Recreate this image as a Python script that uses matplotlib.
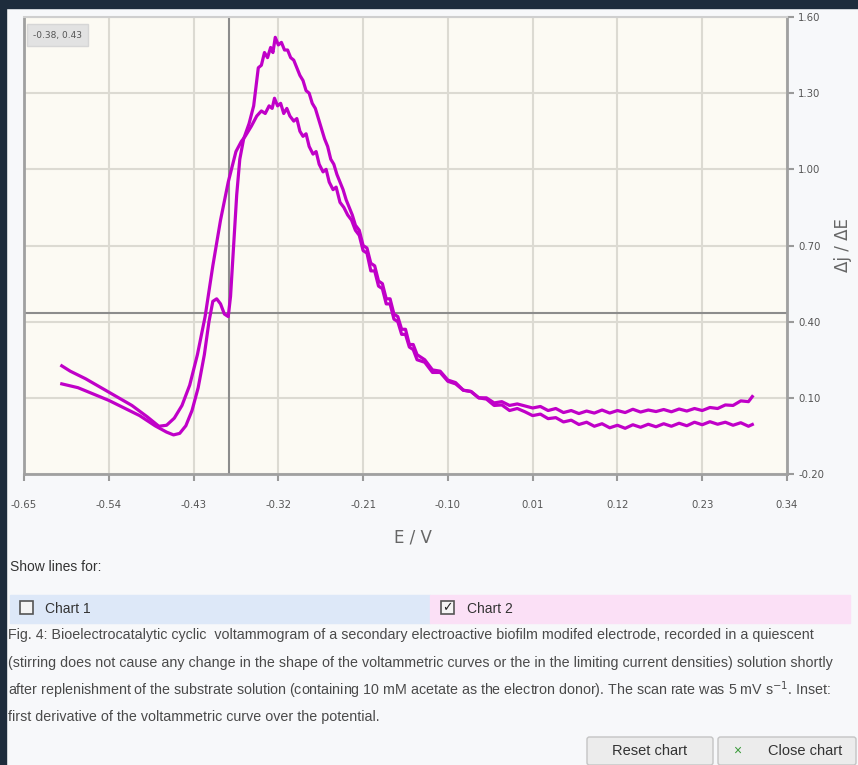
import matplotlib.pyplot as plt
from matplotlib.patches import Rectangle, FancyBboxPatch

# ---- data ----
x_ticks = [-0.65, -0.54, -0.43, -0.32, -0.21, -0.10, 0.01, 0.12, 0.23, 0.34]
x_tick_labels = ['-0.65', '-0.54', '-0.43', '-0.32', '-0.21', '-0.10', '0.01', '0.12', '0.23', '0.34']
y_ticks = [-0.20, 0.10, 0.40, 0.70, 1.00, 1.30, 1.60]
y_tick_labels = ['-0.20', '0.10', '0.40', '0.70', '1.00', '1.30', '1.60']

cursor_e = -0.384
cursor_v = 0.435
cursor_label = '-0.38, 0.43'

e_scan1 = [-0.601, -0.59, -0.57, -0.55, -0.53, -0.51, -0.49, -0.475, -0.465, -0.455,
           -0.445, -0.435, -0.425, -0.415, -0.405, -0.395, -0.385, -0.375, -0.368, -0.363,
           -0.355, -0.348, -0.342, -0.337, -0.332, -0.328, -0.325, -0.321, -0.317, -0.313,
           -0.309, -0.305, -0.30, -0.296, -0.292, -0.288, -0.284, -0.28, -0.275, -0.271,
           -0.267, -0.262, -0.258, -0.254, -0.249, -0.245, -0.24, -0.235, -0.23, -0.225,
           -0.22, -0.215, -0.21, -0.205, -0.20, -0.195, -0.19, -0.185, -0.18, -0.175,
           -0.17, -0.165, -0.16, -0.155, -0.15, -0.145, -0.14, -0.13, -0.12, -0.11,
           -0.10, -0.09, -0.08, -0.07, -0.06, -0.05, -0.04, -0.03, -0.02, -0.01,
           0.0, 0.01, 0.02, 0.03, 0.04, 0.05, 0.06, 0.07, 0.08, 0.09,
           0.10, 0.11, 0.12, 0.13, 0.14, 0.15, 0.16, 0.17, 0.18, 0.19,
           0.20, 0.21, 0.22, 0.23, 0.24, 0.25, 0.26, 0.27, 0.28, 0.29, 0.295]
dj_scan1 = [0.226, 0.205, 0.175, 0.14, 0.105, 0.07, 0.025, -0.012, -0.008, 0.02,
            0.07, 0.15, 0.27, 0.42, 0.62, 0.80, 0.95, 1.07, 1.11, 1.13,
            1.17, 1.21, 1.23, 1.22, 1.25, 1.24, 1.28, 1.25, 1.26, 1.22,
            1.24, 1.21, 1.19, 1.20, 1.15, 1.13, 1.14, 1.09, 1.06, 1.07,
            1.02, 0.99, 1.00, 0.95, 0.92, 0.93, 0.87, 0.85, 0.82, 0.80,
            0.76, 0.74, 0.68, 0.67, 0.60, 0.60, 0.54, 0.53, 0.47, 0.47,
            0.41, 0.40, 0.35, 0.35, 0.30, 0.29, 0.25, 0.24, 0.20, 0.20,
            0.165, 0.155, 0.13, 0.125, 0.10, 0.10, 0.08, 0.085, 0.07, 0.076,
            0.068, 0.06, 0.066, 0.05, 0.058, 0.042, 0.05, 0.038, 0.048, 0.04,
            0.052, 0.04, 0.05, 0.042, 0.055, 0.044, 0.052, 0.046, 0.054, 0.045,
            0.056, 0.048, 0.058, 0.05, 0.062, 0.058, 0.072, 0.07, 0.088, 0.085, 0.105]

e_scan2 = [-0.601, -0.58, -0.56, -0.54, -0.52, -0.50, -0.48, -0.465, -0.456, -0.448,
           -0.44, -0.432, -0.424, -0.416, -0.41, -0.405, -0.40, -0.395, -0.39, -0.385,
           -0.382, -0.378, -0.374, -0.37, -0.365, -0.358, -0.352, -0.346, -0.342, -0.338,
           -0.334, -0.33, -0.327, -0.324, -0.32, -0.316, -0.312, -0.308, -0.304, -0.30,
           -0.296, -0.292, -0.288, -0.284, -0.28, -0.276, -0.272, -0.268, -0.264, -0.26,
           -0.256, -0.252, -0.248, -0.244, -0.24, -0.236, -0.232, -0.228, -0.224, -0.22,
           -0.215, -0.21, -0.205, -0.20, -0.195, -0.19, -0.185, -0.18, -0.175, -0.17,
           -0.165, -0.16, -0.155, -0.15, -0.145, -0.14, -0.13, -0.12, -0.11, -0.10,
           -0.09, -0.08, -0.07, -0.06, -0.05, -0.04, -0.03, -0.02, -0.01,
           0.0, 0.01, 0.02, 0.03, 0.04, 0.05, 0.06, 0.07, 0.08, 0.09,
           0.10, 0.11, 0.12, 0.13, 0.14, 0.15, 0.16, 0.17, 0.18, 0.19,
           0.20, 0.21, 0.22, 0.23, 0.24, 0.25, 0.26, 0.27, 0.28, 0.29, 0.295]
dj_scan2 = [0.155, 0.14, 0.115, 0.09, 0.06, 0.03, -0.01, -0.035, -0.046, -0.04,
            -0.01, 0.05, 0.14, 0.27, 0.40, 0.48, 0.49, 0.47, 0.43, 0.42,
            0.50, 0.70, 0.90, 1.04, 1.12, 1.18, 1.25, 1.40, 1.41, 1.46,
            1.44, 1.48, 1.46, 1.52, 1.49, 1.50, 1.47, 1.47, 1.44, 1.43,
            1.40, 1.37, 1.35, 1.31, 1.30, 1.26, 1.24, 1.20, 1.16, 1.12,
            1.09, 1.04, 1.02, 0.98, 0.95, 0.92, 0.88, 0.85, 0.82, 0.78,
            0.76, 0.70, 0.69, 0.63, 0.62, 0.56, 0.55, 0.49, 0.49, 0.43,
            0.42, 0.37, 0.37, 0.31, 0.31, 0.27, 0.25, 0.21, 0.205, 0.17,
            0.16, 0.13, 0.125, 0.10, 0.095, 0.07, 0.072, 0.05, 0.058,
            0.045, 0.03, 0.036, 0.018, 0.022, 0.005, 0.012, -0.005, 0.004, -0.012,
            -0.002, -0.018, -0.008, -0.02, -0.006, -0.016, -0.004, -0.014, -0.002, -0.012,
            0.0, -0.01, 0.004, -0.006, 0.006, -0.004, 0.004, -0.008, 0.002, -0.012, -0.005]

caption_lines = [
    'Fig. 4: Bioelectrocatalytic cyclic  voltammogram of a secondary electroactive biofilm modifed electrode, recorded in a quiescent',
    '(stirring does not cause any change in the shape of the voltammetric curves or the in the limiting current densities) solution shortly',
    'after replenishment of the substrate solution (containing 10 mM acetate as the electron donor). The scan rate was 5 mV s$^{-1}$. Inset:',
    'first derivative of the voltammetric curve over the potential.',
]

W, H = 858, 765
line_color = '#c000c8'
page_font = 'Liberation Sans'

fig = plt.figure(figsize=(W / 100, H / 100), dpi=100)
fig.patch.set_facecolor('#f7f8fa')


def fx(px):
    return px / W


def fy(py):
    return 1 - py / H


# dark page frame
fig.add_artist(Rectangle((0, fy(8)), 1, 8 / H, transform=fig.transFigure, color='#1e2c3c', zorder=0))
fig.add_artist(Rectangle((0, 0), fx(6), 1, transform=fig.transFigure, color='#1e2c3c', zorder=0))

ax = fig.add_axes([fx(24), fy(474), fx(787 - 24), (474 - 17) / H])
ax.set_facecolor('#fcfaf3')
ax.plot(e_scan1, dj_scan1, color=line_color, lw=2.3, zorder=3)
ax.plot(e_scan2, dj_scan2, color=line_color, lw=2.3, zorder=3)

ax.set_xlim(-0.65, 0.34)
ax.set_ylim(-0.20, 1.60)
ax.set_xticks(x_ticks, labels=x_tick_labels)
ax.set_yticks(y_ticks, labels=y_tick_labels)
ax.yaxis.tick_right()
ax.grid(True, color='#dcdad2', lw=1.5, zorder=0)
ax.tick_params(axis='both', labelsize=7.3, colors='#9a9a9a', labelcolor='#555555', length=5, width=1.5)
ax.tick_params(axis='x', pad=14)
ax.tick_params(axis='y', pad=3)
for side in ['left', 'bottom', 'right']:
    ax.spines[side].set_color('#a0a0a0')
    ax.spines[side].set_linewidth(2)
ax.spines['top'].set_color('#cfcfcf')
ax.spines['top'].set_linewidth(1.5)

# crosshair cursor
ax.axvline(cursor_e, color='#8c8c8c', lw=1.5, zorder=2)
ax.axhline(cursor_v, color='#8c8c8c', lw=1.5, zorder=2)
ax.text(0.012, 0.96, cursor_label, transform=ax.transAxes, fontsize=6.5, color='#555555',
        va='center', ha='left',
        bbox=dict(boxstyle='square,pad=0.7', fc='#e2e2e2', ec='#d6d6d6'))

fig.text(fx(413), fy(538), 'E / V', fontsize=12, color='#666666', ha='center', va='center')
fig.text(fx(843), fy(245), 'Δj / ΔE', fontsize=12, color='#666666', ha='center', va='center',
         rotation=90)

fig.text(fx(10), fy(567), 'Show lines for:', fontsize=10, color='#333333', va='center',
         family=page_font)

# series toggles
fig.add_artist(Rectangle((fx(10), fy(623)), fx(420), 28 / H, transform=fig.transFigure,
                         color='#dde8f8', zorder=1))
fig.add_artist(Rectangle((fx(430), fy(623)), fx(420), 28 / H, transform=fig.transFigure,
                         color='#fbe0f6', zorder=1))
fig.add_artist(Rectangle((fx(20), fy(614)), fx(13), 13 / H, transform=fig.transFigure,
                         fc='#f4f4f4', ec='#555555', lw=1.2, zorder=2))
fig.add_artist(Rectangle((fx(441), fy(614)), fx(13), 13 / H, transform=fig.transFigure,
                         fc='#f4f4f4', ec='#555555', lw=1.2, zorder=2))
fig.text(fx(447.5), fy(608), '✓', fontsize=9, color='#222222', ha='center', va='center',
         fontweight='bold', zorder=3)
fig.text(fx(45), fy(609), 'Chart 1', fontsize=10, color='#333333', va='center', zorder=3,
         family=page_font)
fig.text(fx(467), fy(609), 'Chart 2', fontsize=10, color='#333333', va='center', zorder=3,
         family=page_font)

for i, line in enumerate(caption_lines):
    fig.text(fx(8), fy(635 + i * 27.5), line, fontsize=10.3, color='#4a4a4a', va='center',
             family=page_font)

# buttons
for x0, x1 in [(587, 713), (718, 856)]:
    fig.add_artist(FancyBboxPatch((fx(x0), fy(765)), fx(x1 - x0), 28 / H,
                                  boxstyle='round,pad=0,rounding_size=0.003',
                                  transform=fig.transFigure, fc='#ececec', ec='#c4c4c4', lw=1))
fig.text(fx(650), fy(751), 'Reset chart', fontsize=10.5, color='#333333', ha='center', va='center',
         family=page_font)
fig.text(fx(737), fy(751), '×', fontsize=10, color='#3a9a3a', ha='center', va='center',
         family=page_font)
fig.text(fx(805), fy(751), 'Close chart', fontsize=10.5, color='#333333', ha='center', va='center',
         family=page_font)

fig.savefig('out.png', dpi=100, facecolor=fig.get_facecolor())
